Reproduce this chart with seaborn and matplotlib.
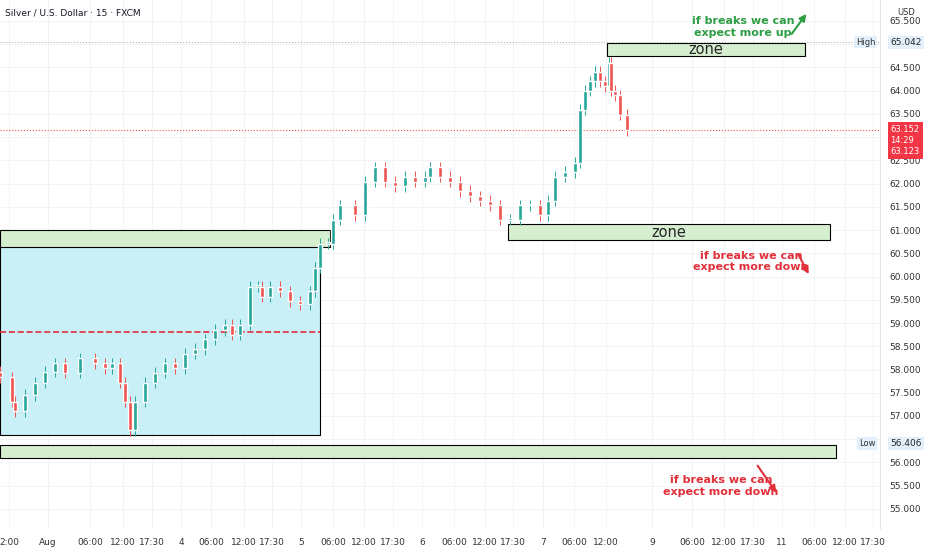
import matplotlib.pyplot as plt
import seaborn as sns
from matplotlib.patches import Rectangle

# chart hours from Aug 1 00:00 (trading-time axis) and closes
hours = [-9.6, -7.2, -6.6, -4.6, -2.6, -0.6, 1.4, 3.4, 6.4, 9.4, 11.4, 12.8, 14.4, 15.4, 16.4,
         17.4, 19.4, 21.4, 23.4, 25.4, 27.4, 29.4, 31.4, 33.4, 35.4, 36.8, 38.4, 40.4, 42.0,
         42.8, 44.4, 46.4, 48.4, 50.4, 52.4, 53.4, 54.4, 56.0, 57.0, 58.4, 61.4, 63.4, 65.4,
         67.4, 69.4, 71.4, 73.4, 75.4, 76.4, 78.4, 80.4, 82.4, 84.4, 86.4, 88.4, 90.4, 92.4,
         94.4, 96.4, 98.4, 100.0, 101.4, 103.4, 105.4, 106.4, 107.4, 108.4, 109.4, 110.4,
         111.4, 112.2, 112.6, 113.4, 114.4, 115.8]
closes = [57.83, 57.31, 57.10, 57.45, 57.72, 57.95, 58.13, 57.93, 58.24, 58.13, 58.03, 58.13,
          57.72, 57.31, 56.69, 57.31, 57.72, 57.93, 58.13, 58.03, 58.34, 58.44, 58.65, 58.85,
          58.96, 58.75, 58.96, 59.78, 59.78, 59.57, 59.78, 59.68, 59.47, 59.41, 59.68, 60.19,
          60.71, 60.71, 61.22, 61.53, 61.32, 62.04, 62.35, 62.04, 61.94, 62.15, 62.04, 62.15,
          62.35, 62.15, 62.04, 61.84, 61.73, 61.63, 61.53, 61.22, 61.22, 61.53, 61.53, 61.32,
          61.63, 62.15, 62.25, 62.45, 63.59, 64.00, 64.20, 64.41, 64.20, 64.10, 64.60, 64.00,
          63.90, 63.48, 63.15]
first_open = 57.95
tick_hours = [-7.8, 0, 8.4, 15, 20.8, 26.6, 32.6, 39.2, 44.8, 50.6, 57, 63.2, 69, 74.8, 81.2,
              87.4, 93, 99, 105.2, 111.6, 120.8, 128.8, 135.2, 141, 146.8, 153.2, 159.4, 165]
tick_labels = ['2:00', 'Aug', '06:00', '12:00', '17:30', '4', '06:00', '12:00', '17:30', '5',
               '06:00', '12:00', '17:30', '6', '06:00', '12:00', '17:30', '7', '06:00', '12:00',
               '9', '06:00', '12:00', '17:30', '11', '06:00', '12:00', '17:30']
price_ticks = [55.0, 55.5, 56.0, 56.5, 57.0, 57.5, 58.0, 58.5, 59.0, 59.5, 60.0, 60.5,
               61.0, 61.5, 62.0, 62.5, 63.0, 63.5, 64.0, 64.5, 65.0, 65.5]
high_price, low_price, last_price = 65.042, 56.406, 63.152
YMIN, YMAX = 54.59, 65.95

sns.set_style('white')
fig = plt.figure(figsize=(9.32, 5.5), dpi=100)
ax = fig.add_axes([0, 22 / 550, 880 / 932, 528 / 550])

UP, DN = '#26a69a', '#ef5350'
opens = [first_open] + closes[:-1]
for t, o, c in zip(hours, opens, closes):
    col = UP if c >= o else DN
    ax.vlines(t, min(o, c) - 0.12, max(o, c) + 0.12, color=col, lw=0.7, zorder=3)
    ax.bar(t, max(abs(c - o), 0.04), bottom=min(o, c), width=0.9, color=col, zorder=3)

# zones
ax.add_patch(Rectangle((-9.6, 56.59), 64.0, 4.18, fc='#c9eff7', ec='black', lw=0.8, zorder=1))
ax.hlines(58.81, -9.6, 54.4, colors='#e0303a', linestyles='--', lw=1.2, zorder=2)
for x0, x1, y0, y1, lab in [(-9.6, 56.4, 60.64, 61.01, ''), (111.8, 151.4, 64.74, 65.03, 'zone'),
                            (92.0, 156.4, 60.79, 61.12, 'zone'), (-9.6, 157.6, 56.10, 56.38, '')]:
    ax.add_patch(Rectangle((x0, y0), x1 - x0, y1 - y0, fc='#d6efd0', ec='black', lw=0.8, zorder=2))
    if lab:
        ax.text((x0 + x1) / 2, (y0 + y1) / 2, lab, ha='center', va='center', fontsize=10.5, zorder=4)

ax.axhline(high_price, color='#b0b4bc', ls=':', lw=0.8)
ax.axhline(last_price, color='#ef5350', ls=':', lw=0.8)

# notes
ax.text(139.0, 65.37, 'if breaks we can\nexpect more up', color='#2e9e44', ha='center', va='center',
        fontsize=8, fontweight='semibold')
ax.annotate('', xy=(152, 65.7), xytext=(148.4, 65.17),
            arrowprops=dict(arrowstyle='-|>', color='#2e9e44', lw=1.5))
for tx, ty, ax0, ay0, ax1, ay1 in [(140.6, 60.32, 149.8, 60.53, 152.4, 60.0),
                                   (134.6, 55.5, 141.6, 55.98, 146, 55.3)]:
    ax.text(tx, ty, 'if breaks we can\nexpect more down', color='#e0303a', ha='center', va='center',
            fontsize=8, fontweight='semibold')
    ax.annotate('', xy=(ax1, ay1), xytext=(ax0, ay0),
                arrowprops=dict(arrowstyle='-|>', color='#e0303a', lw=1.5))

ax.set_xticks(tick_hours)
ax.set_xticklabels(tick_labels, fontsize=6.5, color='#333333')
ax.set_yticks(price_ticks)
hidden = {56.5, 63.0, 65.0}
ax.set_yticklabels(['' if p in hidden else f'{p:.3f}' for p in price_ticks], fontsize=6.5, color='#333333')
ax.set_xlim(-9.6, 166.4)
ax.set_ylim(YMIN, YMAX)
ax.yaxis.tick_right()
ax.tick_params(length=0, pad=7)
ax.grid(True, color='#f0f1f3', lw=0.6)
for s in ['top', 'left', 'bottom']:
    ax.spines[s].set_visible(False)
ax.spines['right'].set_color('#e0e3eb')

# axis tags
def frac(p):
    return (p - YMIN) / (YMAX - YMIN)

for p, name in [(high_price, 'High'), (low_price, 'Low')]:
    ax.text(1.012, frac(p), f'{p:.3f}', transform=ax.transAxes, fontsize=6.5,
            va='center', ha='left', bbox=dict(fc='#e3effa', ec='none', pad=1.5))
    ax.text(0.995, frac(p), name, transform=ax.transAxes, fontsize=6, va='center', ha='right',
            color='#333333', bbox=dict(fc='#e3effa', ec='none', pad=1.2))
ax.text(1.012, frac(last_price) - 0.02, '63.152\n14:29\n63.123', transform=ax.transAxes,
        fontsize=6, va='center', ha='left', color='white', linespacing=1.3,
        bbox=dict(fc='#f23645', ec='none', pad=2))
fig.text(0.005, 0.985, 'Silver / U.S. Dollar · 15 · FXCM', fontsize=6.5, va='top', color='#131722')
fig.text(0.972, 0.985, 'USD', fontsize=6, va='top', ha='center', color='#333333')

fig.savefig('out.png', dpi=100)
